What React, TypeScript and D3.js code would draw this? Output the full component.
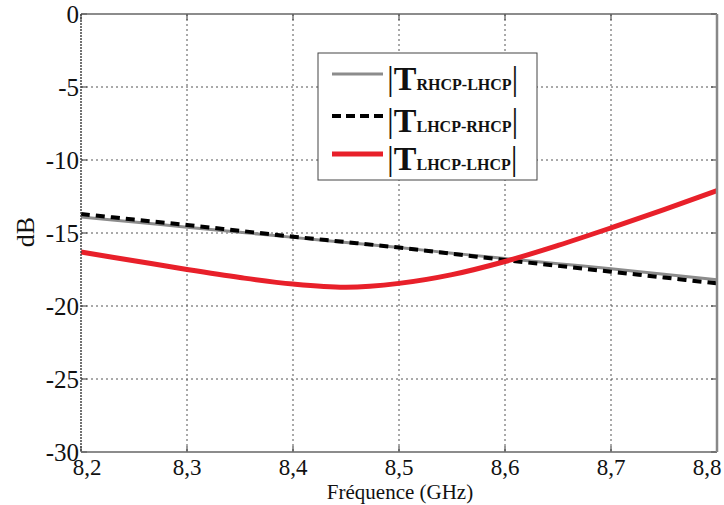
import React from "react";
import * as d3 from "d3";

const freqs = [8.2, 8.25, 8.3, 8.35, 8.4, 8.45, 8.5, 8.55, 8.6, 8.65, 8.7, 8.75, 8.8];
const rhcpLhcp = [-13.9, -14.25, -14.6, -14.95, -15.3, -15.65, -16.0, -16.38, -16.75, -17.1, -17.45, -17.82, -18.2];
const lhcpRhcp = [-13.7, -14.08, -14.45, -14.85, -15.25, -15.62, -16.0, -16.42, -16.85, -17.25, -17.65, -18.05, -18.45];
const lhcpLhcp = [-16.3, -16.9, -17.5, -18.05, -18.5, -18.72, -18.45, -17.85, -16.95, -15.85, -14.65, -13.4, -12.1];

const xTicks = [8.2, 8.3, 8.4, 8.5, 8.6, 8.7, 8.8];
const xTickLabels = ["8,2", "8,3", "8,4", "8,5", "8,6", "8,7", "8,8"];
const yTicks = [0, -5, -10, -15, -20, -25, -30];

const series = [
  { sub: "RHCP-LHCP", values: rhcpLhcp, color: "#8c8c8c", width: 3, dash: "" },
  { sub: "LHCP-RHCP", values: lhcpRhcp, color: "#000000", width: 4, dash: "9,6" },
  { sub: "LHCP-LHCP", values: lhcpLhcp, color: "#e8202a", width: 5, dash: "" },
];

const W = 724, H = 505;
const L = 81, R = 717, T = 14, B = 452;
const FONT = "Liberation Serif, Times New Roman, DejaVu Serif, serif";

export default function App() {
  const x = d3.scaleLinear().domain([8.2, 8.8]).range([L, R]);
  const y = d3.scaleLinear().domain([-30, 0]).range([B, T]);
  const line = d3
    .line<number>()
    .x((_, i) => x(freqs[i]))
    .y((d) => y(d))
    .curve(d3.curveCatmullRom);

  const legX = 318, legY = 53, legW = 219, legH = 127;
  const rowY = [74, 116, 154];

  return (
    <svg
      width={W}
      height={H}
      style={{ position: "absolute", left: 0, top: 0, background: "#fff", fontFamily: FONT }}
    >
      <rect x={0} y={0} width={W} height={H} fill="#fff" />
      {/* grid */}
      {xTicks.slice(1, -1).map((t) => (
        <line key={"gx" + t} x1={x(t)} x2={x(t)} y1={T} y2={B} stroke="#555" strokeWidth={1} strokeDasharray="2,3" />
      ))}
      {yTicks.slice(1, -1).map((t) => (
        <line key={"gy" + t} x1={L} x2={R} y1={y(t)} y2={y(t)} stroke="#555" strokeWidth={1} strokeDasharray="2,3" />
      ))}
      {/* ticks */}
      {xTicks.map((t) => (
        <g key={"tx" + t}>
          <line x1={x(t)} x2={x(t)} y1={B} y2={B - 6} stroke="#333" />
          <line x1={x(t)} x2={x(t)} y1={T} y2={T + 6} stroke="#333" />
        </g>
      ))}
      {yTicks.map((t) => (
        <g key={"ty" + t}>
          <line x1={L} x2={L + 6} y1={y(t)} y2={y(t)} stroke="#333" />
          <line x1={R} x2={R - 6} y1={y(t)} y2={y(t)} stroke="#333" />
        </g>
      ))}
      {/* series */}
      {series.map((s) => (
        <path
          key={s.sub}
          d={line(s.values) || ""}
          fill="none"
          stroke={s.color}
          strokeWidth={s.width}
          strokeDasharray={s.dash}
        />
      ))}
      {/* frame */}
      <line x1={L} x2={R} y1={T} y2={T} stroke="#666" strokeWidth={1.5} />
      <line x1={L} x2={R} y1={B} y2={B} stroke="#666" strokeWidth={1.5} />
      <line x1={L} x2={L} y1={T} y2={B} stroke="#444" strokeWidth={1.5} strokeDasharray="2,1" />
      <line x1={R} x2={R} y1={T} y2={B} stroke="#888" strokeWidth={2.5} />
      {/* y tick labels */}
      {yTicks.map((t) => (
        <text key={"yl" + t} x={L - 2} y={y(t)} dy="0.35em" textAnchor="end" fontSize={25} fill="#111">
          {t === 0 ? "0" : "-" + Math.abs(t)}
        </text>
      ))}
      {/* x tick labels */}
      {xTicks.map((t, i) => (
        <text
          key={"xl" + t}
          x={i === 0 ? x(t) + 6 : i === xTicks.length - 1 ? x(t) - 10 : x(t)}
          y={475}
          textAnchor="middle"
          fontSize={23}
          fill="#111"
        >
          {xTickLabels[i]}
        </text>
      ))}
      <text x={400} y={499} textAnchor="middle" fontSize={21} fill="#111">
        Fréquence (GHz)
      </text>
      <text transform="translate(34,232) rotate(-90)" textAnchor="middle" fontSize={26} fill="#111">
        dB
      </text>
      {/* legend */}
      <rect x={legX} y={legY} width={legW} height={legH} fill="#fff" stroke="#444" strokeWidth={1} />
      {series.map((s, i) => (
        <g key={"leg" + s.sub}>
          <line
            x1={332}
            x2={383}
            y1={rowY[i]}
            y2={rowY[i]}
            stroke={s.color}
            strokeWidth={s.width}
            strokeDasharray={s.dash ? "9,5" : ""}
          />
          <text x={387} y={rowY[i] + 16} fontSize={34} fill="#111">
            |<tspan fontWeight="bold">T</tspan>
            <tspan fontWeight="bold" fontSize={16}>{s.sub}</tspan>|
          </text>
        </g>
      ))}
    </svg>
  );
}
